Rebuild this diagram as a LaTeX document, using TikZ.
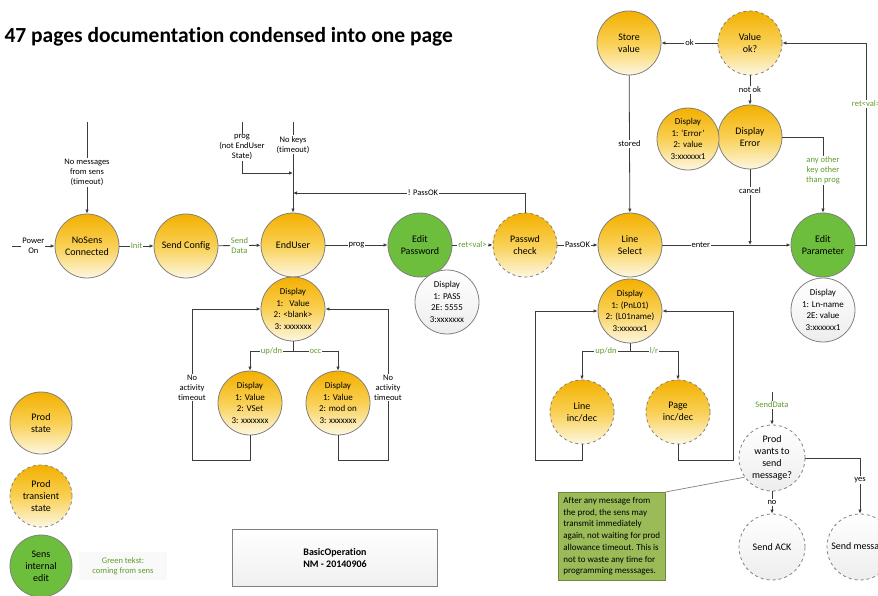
\documentclass[tikz,border=0pt]{standalone}
\usepackage{fontspec}
\setmainfont{Carlito}[Ligatures={TeX,NoCommon}]
\usetikzlibrary{arrows.meta,calc}

\definecolor{stateTop}{RGB}{243,176,0}
\definecolor{stateMid}{RGB}{249,208,84}
\definecolor{stateBot}{RGB}{253,247,226}
\definecolor{sensGreen}{RGB}{108,190,60}
\definecolor{textGreen}{RGB}{96,156,44}
\definecolor{noteFill}{RGB}{155,187,89}
\definecolor{noteDraw}{RGB}{113,137,63}
\definecolor{rimGray}{RGB}{128,128,128}
\definecolor{lineGray}{RGB}{60,60,60}

\tikzset{
  circ/.style={circle, draw=rimGray, line width=0.8pt, minimum size=64pt,
    inner sep=-9pt, align=center, font=\fontsize{10}{12}\selectfont},
  prodstate/.style={circ, top color=stateTop, bottom color=stateBot, middle color=stateMid},
  transient/.style={prodstate, dashed},
  sensedit/.style={circ, fill=sensGreen},
  dispstate/.style={prodstate, font=\fontsize{9}{11.5}\selectfont},
  dispinfo/.style={circ, font=\fontsize{9}{11.5}\selectfont, top color=white, bottom color=gray!14},
  msgstate/.style={circ, dashed, minimum size=66pt, top color=white, bottom color=gray!14},
  note/.style={draw=noteDraw, fill=noteFill, line width=0.8pt, align=left,
    inner sep=5pt, font=\fontsize{9}{11.7}\selectfont},
  flow/.style={draw=lineGray, line width=0.8pt, -{Latex[length=4pt,width=3.5pt]}},
  lbl/.style={fill=white, inner sep=1pt, align=center, font=\fontsize{8.5}{10}\selectfont},
  glbl/.style={lbl, text=textGreen}
}

\begin{document}
\begin{tikzpicture}[x=1pt, y=-1pt]
  \useasboundingbox (0,0) rectangle (878,596);

  % Title
  \node[anchor=west, font=\fontsize{21.5}{24}\selectfont\bfseries] (title) at (1,37)
    {47 pages documentation condensed into one page};

  % Main chain of states
  \node[prodstate] (nosens) at (87,246) {NoSens\\Connected};
  \node[prodstate] (sendcfg) at (186,246) {Send Config};
  \node[prodstate] (enduser) at (293,245) {EndUser};
  \node[sensedit] (editpw) at (420,245) {Edit\\Password};
  \node[transient] (pwcheck) at (525,245) {Passwd\\check};
  \node[prodstate] (linesel) at (630,245) {Line\\Select};
  \node[sensedit] (editpar) at (823,245) {Edit\\Parameter};

  % Value check
  \node[prodstate] (storeval) at (629,43) {Store\\value};
  \node[transient] (valok) at (750,43) {Value\\ok?};
  \node[prodstate] (disperr) at (750,137) {Display\\Error};
  \node[dispstate, minimum size=62pt] (errinfo) at (688,139) {Display\\1: `Error'\\2: value\\3:xxxxxx1};

  % Displays
  \node[dispstate] (dispeu) at (293,309) {Display\\1:\ \ \ Value\\2: <blank>\\3: xxxxxxx};
  \node[dispstate] (dispvset) at (250,403) {Display\\1: Value\\2: VSet\\3: xxxxxxx};
  \node[dispstate] (dispmod) at (338,403) {Display\\1: Value\\2: mod on\\3: xxxxxxx};
  \node[dispinfo] (disppw) at (447,302) {Display\\1: PASS\\2E: 5555\\3:xxxxxxx};
  \node[dispstate] (displs) at (630,311) {Display\\1: (PnL01)\\2: (L01name)\\3:xxxxxx1};
  \node[transient] (lineinc) at (582,412) {Line\\inc/dec};
  \node[transient] (pageinc) at (678,412) {Page\\inc/dec};
  \node[dispinfo] (disppar) at (823,310) {Display\\1: Ln-name\\2E: value\\3:xxxxxx1};

  % Sending messages
  \node[msgstate] (prodsend) at (772,458) {Prod\\wants to\\send\\message?};
  \node[msgstate] (sendack) at (772,547) {Send ACK};
  \node[msgstate] (sendmsg) at (860,547) {Send message};
  \node[note, anchor=north west] (note) at (558,492)
    {After any message from\\the prod, the sens may\\transmit immediately\\again, not waiting for prod\\allowance timeout. This is\\not to waste any time for\\programming messsages.};
  \draw[rimGray, line width=0.7pt] (note.north east) -- (prodsend.215);

  % Legend
  \node[prodstate, minimum size=62pt] (lgprod) at (41,423) {Prod\\state};
  \node[transient, minimum size=62pt] (lgtrans) at (41,496) {Prod\\transient\\state};
  \node[sensedit, minimum size=62pt] (lgsens) at (41,566) {Sens\\internal\\edit};
  \node[fill=gray!5, text=textGreen, align=center, minimum width=88pt, minimum height=28pt,
    font=\fontsize{8.5}{10}\selectfont] (lggreen) at (123,566) {Green tekst:\\coming from sens};
  \node[draw=rimGray, line width=0.8pt, top color=white, bottom color=gray!12,
    minimum width=205pt, minimum height=57pt, align=center,
    font=\fontsize{10}{12.5}\selectfont\bfseries] (basicop) at (335,558) {BasicOperation\\NM - 20140906};

  % Inputs from above
  \coordinate (pwrIn) at (12,246);
  \coordinate (nomsgIn) at (87,122);
  \coordinate (progIn) at (242,122);
  \coordinate (nokeysIn) at (293,122);
  \coordinate (jProg) at (293,173);
  \coordinate (jPass) at (293,193);
  \draw[flow] (pwrIn) -- node[lbl]{Power\\On} (nosens.west);
  \draw[flow] (nomsgIn) -- node[lbl, pos=0.55]{No messages\\from sens\\(timeout)} (nosens.north);
  \draw[flow] (progIn) |- node[lbl, pos=0.25]{prog\\(not EndUser\\State)} (jProg);
  \draw[flow] (nokeysIn) -- node[lbl, pos=0.25]{No keys\\(timeout)} (enduser.north);
  \draw[flow] (pwcheck.north) |- node[lbl, pos=0.72]{! PassOK} (jPass);

  % Main chain
  \draw[flow] (nosens) -- node[glbl]{Init} (sendcfg);
  \draw[flow] (sendcfg) -- node[glbl]{Send\\Data} (enduser);
  \draw[flow] (enduser) -- node[lbl]{prog} (editpw);
  \draw[flow] (editpw) -- node[glbl]{ret<val>} (pwcheck);
  \draw[flow] (pwcheck) -- node[lbl]{PassOK} (linesel);
  \draw[flow] (linesel) -- node[lbl, pos=0.3]{enter} (editpar);

  % Value check loop
  \coordinate (jCancel) at (750,245);
  \coordinate (retC) at (866,245);
  \draw[flow] (valok) -- node[lbl]{ok} (storeval);
  \draw[flow] (valok) -- node[lbl]{not ok} (disperr);
  \draw[flow] (storeval) -- node[lbl]{stored} (linesel);
  \draw[flow] (disperr.south) -- node[lbl, pos=0.28]{cancel} (jCancel);
  \draw[flow] (disperr.east) -| node[glbl, pos=0.72]{any other\\key other\\than prog} (editpar.north);
  \draw[flow] (editpar.east) -- (retC) |- node[glbl, pos=0.35]{ret<val>} (valok.east);

  % EndUser display loops
  \coordinate (euB) at (293,351);
  \coordinate (euL) at (192,460);
  \coordinate (euR) at (388,460);
  \draw[flow] (dispeu.south) -- (euB) -| node[glbl, pos=0.25]{up/dn} (dispvset.north);
  \draw[flow] (euB) -| node[glbl, pos=0.25]{occ} (dispmod.north);
  \draw[flow] (dispvset.south) |- (euL) |- node[lbl, pos=0.24]{No\\activity\\timeout} (dispeu.west);
  \draw[flow] (dispmod.south) |- (euR) |- node[lbl, pos=0.24]{No\\activity\\timeout} (dispeu.east);

  % Line select display loops
  \coordinate (lsB) at (630,351);
  \coordinate (lsL) at (535,460);
  \coordinate (lsR) at (733,460);
  \draw[flow] (displs.south) -- (lsB) -| node[glbl, pos=0.25]{up/dn} (lineinc.north);
  \draw[flow] (lsB) -| node[glbl, pos=0.25]{l/r} (pageinc.north);
  \draw[flow] (lineinc.south) |- (lsL) |- (displs.west);
  \draw[flow] (pageinc.south) |- (lsR) |- (displs.east);

  % Message branch
  \coordinate (sdIn) at (772,392);
  \draw[flow] (sdIn) -- node[glbl, pos=0.4]{SendData} (prodsend.north);
  \draw[flow] (prodsend) -- node[lbl]{no} (sendack);
  \draw[flow] (prodsend.east) -| node[lbl, pos=0.7]{yes} (sendmsg.north);
\end{tikzpicture}
\end{document}
